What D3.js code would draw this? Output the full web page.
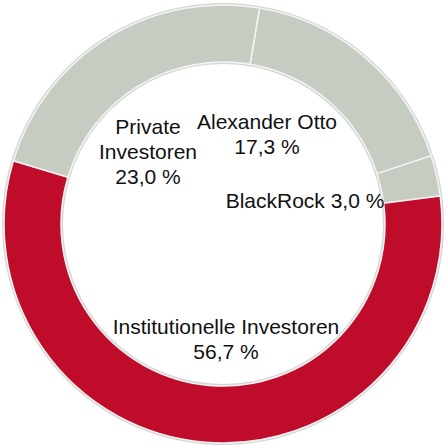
<!DOCTYPE html>
<html>
<head>
<meta charset="utf-8">
<script src="https://cdn.jsdelivr.net/npm/d3@7.9.0/dist/d3.min.js"></script>
<style>
  html, body { margin: 0; padding: 0; background: #fff; }
  svg { display: block; }
  text { font-family: "Liberation Sans", Arial, sans-serif; font-size: 21px; fill: #111; }
</style>
</head>
<body>
<div id="chart"></div>
<script>
// shareholder structure
const holders = ['Alexander Otto', 'BlackRock', 'Institutionelle Investoren', 'Private Investoren'];
const shares = [17.3, 3.0, 56.7, 23.0];
const groups = ['gray', 'gray', 'red', 'gray'];
const labelLines = [
  ['Alexander Otto', '17,3 %'],
  ['BlackRock 3,0 %'],
  ['Institutionelle Investoren', '56,7 %'],
  ['Private', 'Investoren', '23,0 %']
];

const width = 446, height = 445;
const cx = 223, cy = 224;
const outerR = 219, innerR = 162;

const color = d3.scaleOrdinal().domain(['gray', 'red']).range(['#c5cdc3', '#be0c2a']);

const svg = d3.select('#chart').append('svg')
  .attr('width', width)
  .attr('height', height);

const g = svg.append('g').attr('transform', `translate(${cx},${cy})`);

const start = 9.6 * Math.PI / 180;
const pie = d3.pie().sort(null).value(d => d)
  .startAngle(start).endAngle(start + 2 * Math.PI);
const arc = d3.arc().innerRadius(innerR).outerRadius(outerR);

const arcs = pie(shares);

// soft rim around the ring
g.append('circle').attr('r', outerR + 1).attr('fill', 'none')
  .attr('stroke', '#d4d6d4').attr('stroke-width', 2);
g.append('circle').attr('r', innerR - 1).attr('fill', 'none')
  .attr('stroke', '#d4d6d4').attr('stroke-width', 2);

g.selectAll('path.slice')
  .data(arcs)
  .join('path')
  .attr('class', 'slice')
  .attr('d', arc)
  .attr('fill', (d, i) => color(groups[i]))
  .attr('stroke', '#f4f4f4')
  .attr('stroke-width', 1.5);

// label anchors (center x, first baseline y) inside the hole
const labelPos = [[267, 129], [305, 208], [226, 334], [148, 134]];
const lineH = 25;

const labels = svg.append('g');
labelLines.forEach((lines, i) => {
  const t = labels.append('text')
    .attr('text-anchor', 'middle')
    .attr('x', labelPos[i][0])
    .attr('y', labelPos[i][1]);
  lines.forEach((s, j) => {
    t.append('tspan')
      .attr('x', labelPos[i][0])
      .attr('dy', j === 0 ? 0 : lineH)
      .text(s);
  });
});
</script>
</body>
</html>
